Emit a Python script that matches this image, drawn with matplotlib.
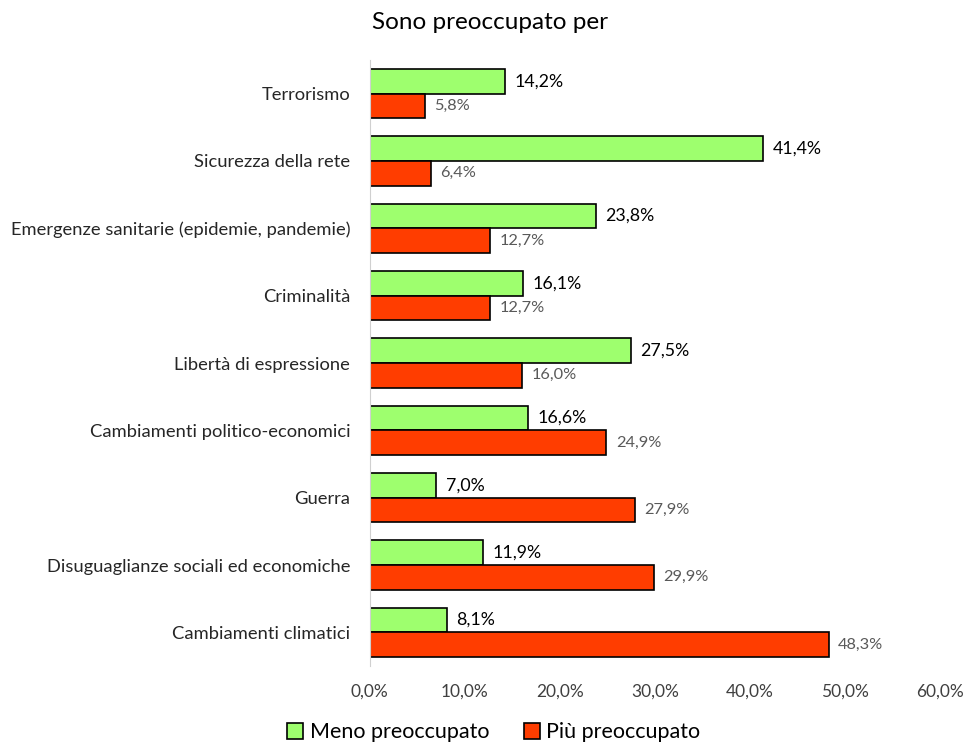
import numpy as np
import matplotlib.pyplot as plt

plt.rcParams['font.family'] = ['Lato', 'DejaVu Sans']

categorie = ["Terrorismo", "Sicurezza della rete",
             "Emergenze sanitarie (epidemie, pandemie)", "Criminalità",
             "Libertà di espressione", "Cambiamenti politico-economici",
             "Guerra", "Disuguaglianze sociali ed economiche",
             "Cambiamenti climatici"]
meno = [14.2, 41.4, 23.8, 16.1, 27.5, 16.6, 7.0, 11.9, 8.1]
piu = [5.8, 6.4, 12.7, 12.7, 16.0, 24.9, 27.9, 29.9, 48.3]
ticks = [0, 10, 20, 30, 40, 50, 60]

def pct(v):
    return f"{v:.1f}%".replace(".", ",")

fig = plt.figure(figsize=(9.68, 7.45), dpi=100)
ax = fig.add_axes([0.382, 0.106, 0.589, 0.8135])

y = np.arange(len(categorie))
h = 0.365
b1 = ax.barh(y - h / 2, meno, height=h, color="#9EFF6E", edgecolor="black",
             linewidth=1.2, label="Meno preoccupato")
b2 = ax.barh(y + h / 2, piu, height=h, color="#FF3D00", edgecolor="black",
             linewidth=1.2, label="Più preoccupato")

# etichette dei valori
for yi, v in zip(y, meno):
    ax.text(v + 1.0, yi - h / 2, pct(v), va="center", ha="left",
            fontsize=12.8, color="black")
for yi, v in zip(y, piu):
    ax.text(v + 1.0, yi + h / 2, pct(v), va="center", ha="left",
            fontsize=11.8, color="#595959")

ax.set_xlim(0, 60)
ax.set_ylim(len(categorie) - 0.5, -0.5)
ax.set_yticks(y)
ax.set_yticklabels(categorie, fontsize=13.2, color="#262626")
ax.set_xticks(ticks)
ax.set_xticklabels([pct(t) for t in ticks], fontsize=12.5, color="#404040")
ax.tick_params(axis="both", length=0)
ax.tick_params(axis="x", pad=13)
ax.tick_params(axis="y", pad=14)

for s in ["top", "right", "bottom"]:
    ax.spines[s].set_visible(False)
ax.spines["left"].set_color("#D0D0D0")

fig.text(0.506, 0.97, "Sono preoccupato per", ha="center", va="center",
         fontsize=17.5, color="black")
fig.legend(handles=[b1, b2], loc="center", bbox_to_anchor=(0.51, 0.017),
           ncol=2, frameon=False, fontsize=15.5, handlelength=0.75,
           handleheight=0.75, columnspacing=1.6, handletextpad=0.3)

fig.savefig("out.png", dpi=100, facecolor="white")
